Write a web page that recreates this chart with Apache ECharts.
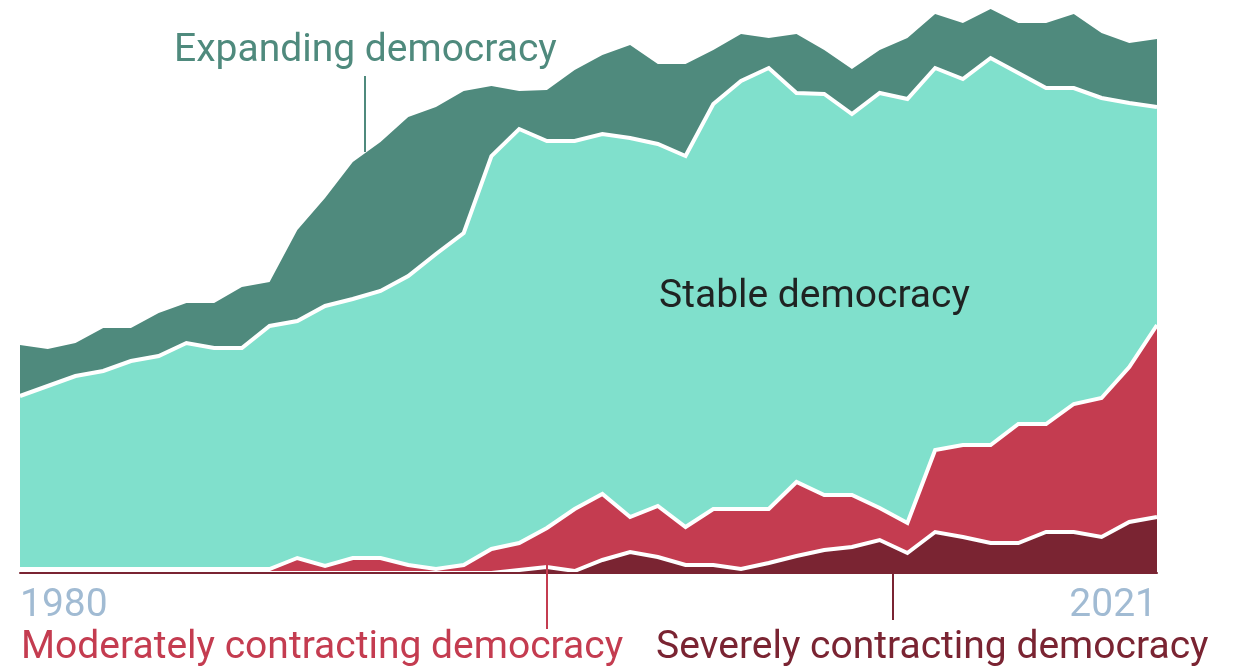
<!DOCTYPE html>
<html>
<head>
<meta charset="utf-8">
<script src="https://cdn.jsdelivr.net/npm/echarts@6/dist/echarts.min.js"></script>
<style>
html, body { margin: 0; padding: 0; background: #fff; }
#chart { width: 1237px; height: 667px; }
</style>
</head>
<body>
<div id="chart"></div>
<script>
//---------------------------Data---------------------------
let years = [];
for (let y = 1980; y <= 2021; y++) {
    years.push(String(y));
}

let severe = [0, 0, 0, 0, 0, 0, 0, 0, 0, 0, 0, 0, 0, 0, 0, 0, 0, 0,
    0.6, 1.2, 0.4, 2.6, 4.2, 3.2, 1.6, 1.6, 0.8, 2, 3.4, 4.6, 5.2, 6.6,
    4, 8.2, 7.2, 6, 6, 8.2, 8.2, 7.2, 10.2, 11.2];

let moderate = [0.8, 0.8, 0.8, 0.8, 0.8, 0.8, 0.8, 0.8, 0.8, 0.8,
    3, 1.4, 3, 3, 1.6, 0.8, 1.6, 4.8, 5.4, 7.8,
    12.4, 13.2, 7, 10.2, 7.6, 11.2, 12, 10.8, 14.8, 11,
    10.4, 6.4, 6, 16.4, 18.4, 19.6, 23.8, 21.6, 25.6, 27.8,
    31, 38.4];

let stable = [34.6, 36.6, 38.6, 39.6, 41.6, 42.6, 45.2, 44.2, 44.2, 48.6,
    47.4, 52, 51.8, 53.4, 57.8, 63, 66.4, 78.6, 82.8, 77.4,
    73.6, 72, 75.8, 72.4, 74.2, 81, 85.6, 88.2, 77.8, 80.2,
    76.2, 83, 84.8, 76.4, 73.2, 77.4, 70.2, 67.2, 63.2, 60,
    52.8, 43.6];

let expanding = [10.2, 7.4, 6.6, 8.6, 6.6, 8.6, 8, 9, 12.2, 8.8,
    18.2, 21.6, 27.4, 29.8, 31.8, 29.4, 28.4, 14, 7.6, 10.2,
    14.2, 15.8, 18.6, 16, 18.4, 10.8, 9.4, 6, 11.8, 8.8,
    9, 8.6, 12.2, 10.8, 11.2, 9.8, 10, 13, 14.8, 13,
    12, 13.6];

//---------------------------Style---------------------------
let font = "Roboto";
let cExpanding = "#4f8a7d";
let cStable = "#80e0cc";
let cModerate = "#c43c50";
let cSevere = "#7a2432";
let cYear = "#a1bbd3";

//---------------------------Chart---------------------------
let chart = echarts.init(document.getElementById('chart'));

function areaSeries(name, data, color, z, lineW) {
    return {
        name: name,
        type: 'line',
        stack: 'all',
        data: data,
        z: z,
        symbol: 'none',
        showSymbol: false,
        silent: true,
        lineStyle: { color: '#ffffff', width: lineW, join: 'miter' },
        areaStyle: { color: color, opacity: 1 },
        itemStyle: { color: color }
    };
}

let option = {
    animation: false,
    backgroundColor: '#ffffff',
    grid: { left: 20, right: 80, top: 3, bottom: 94, containLabel: false, outerBoundsMode: 'none' },
    xAxis: {
        type: 'category',
        data: years,
        boundaryGap: false,
        z: 10,
        axisLine: { show: true, lineStyle: { color: cSevere, width: 2 } },
        axisTick: { show: false },
        splitLine: { show: false },
        axisLabel: {
            interval: function (index) {
                return index === 0 || index === years.length - 1;
            },
            alignMinLabel: 'left',
            alignMaxLabel: 'right',
            margin: 14,
            fontFamily: font,
            fontSize: 39,
            color: cYear
        }
    },
    yAxis: {
        type: 'value',
        min: 0,
        max: 114,
        show: false
    },
    series: [
        areaSeries('Severely contracting democracy', severe, cSevere, 6, 4),
        areaSeries('Moderately contracting democracy', moderate, cModerate, 5, 4),
        areaSeries('Stable democracy', stable, cStable, 4, 4),
        areaSeries('Expanding democracy', expanding, cExpanding, 3, 0)
    ],
    graphic: [
        //annotation lines
        { type: 'line', z: 20, shape: { x1: 365, y1: 76, x2: 365, y2: 152 }, style: { stroke: cExpanding, lineWidth: 2 } },
        { type: 'line', z: 20, shape: { x1: 547, y1: 562, x2: 547, y2: 629 }, style: { stroke: cModerate, lineWidth: 2 } },
        { type: 'line', z: 20, shape: { x1: 893, y1: 574, x2: 893, y2: 620 }, style: { stroke: cSevere, lineWidth: 2 } },
        //labels
        { type: 'text', z: 20, left: 174, top: 32, style: { text: 'Expanding democracy', font: '39px ' + font, fill: cExpanding } },
        { type: 'text', z: 20, left: 659, top: 278, style: { text: 'Stable democracy', font: '39px ' + font, fill: '#1f2322' } },
        { type: 'text', z: 20, left: 21, top: 629, style: { text: 'Moderately contracting democracy', font: '39px ' + font, fill: cModerate } },
        { type: 'text', z: 20, left: 656, top: 629, style: { text: 'Severely contracting democracy', font: '39px ' + font, fill: cSevere } }
    ]
};

chart.setOption(option);

window.onresize = function () {
    chart.resize();
};
</script>
</body>
</html>
